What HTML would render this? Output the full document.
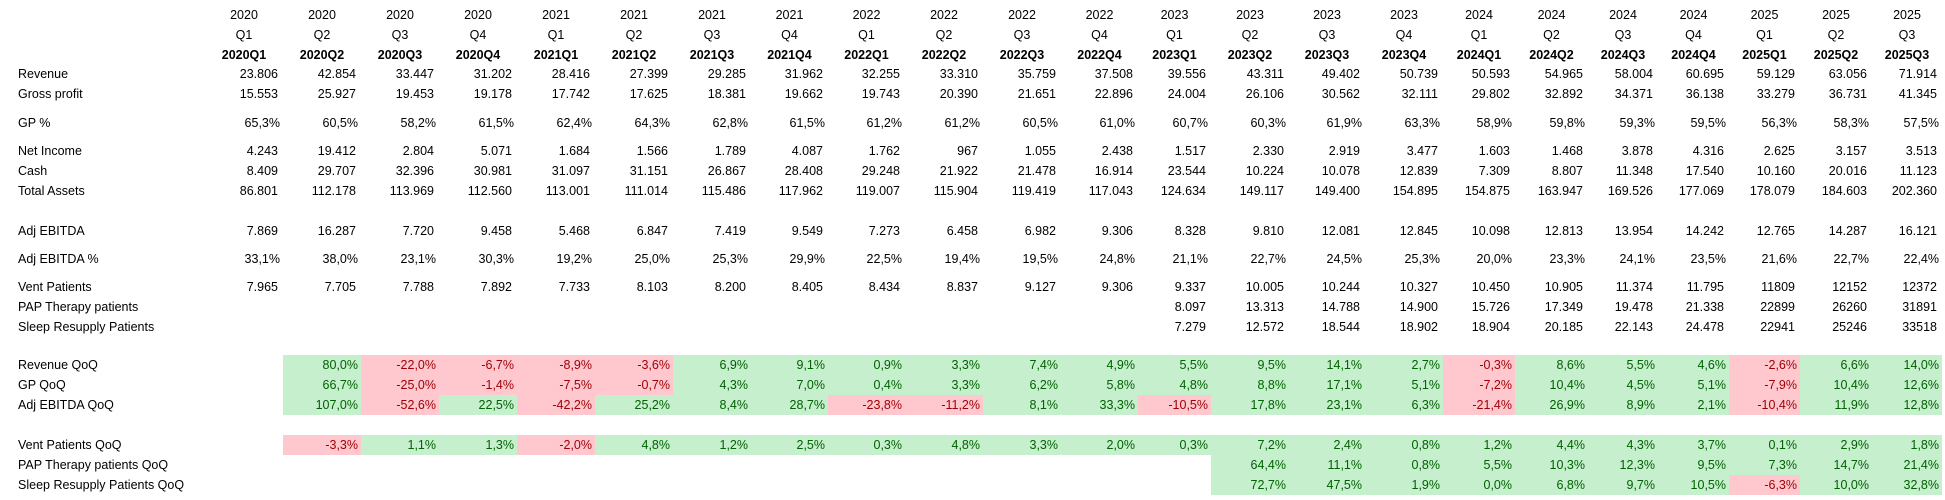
<!DOCTYPE html>
<html><head><meta charset="utf-8">
<style>
html,body{margin:0;padding:0;background:#fff;}
#sheet{position:relative;width:1945px;height:500px;overflow:hidden;font-family:"Liberation Sans",sans-serif;font-size:12.5px;color:#000;}
.c{position:absolute;height:20px;line-height:20px;white-space:nowrap;box-sizing:border-box;}
.lbl{left:18px;}
.hd{text-align:center;}
.b{font-weight:bold;}
.num{text-align:right;padding-right:5px;}
.pct{text-align:right;padding-right:3px;}
.pos{background:#C6EFCE;color:#006100;}
.neg{background:#FFC7CE;color:#9C0006;}
</style></head>
<body>
<div id="sheet"></div>
<script>
const quarters=["2020Q1","2020Q2","2020Q3","2020Q4","2021Q1","2021Q2","2021Q3","2021Q4","2022Q1","2022Q2","2022Q3","2022Q4","2023Q1","2023Q2","2023Q3","2023Q4","2024Q1","2024Q2","2024Q3","2024Q4","2025Q1","2025Q2","2025Q3"];
const revenue=["23.806","42.854","33.447","31.202","28.416","27.399","29.285","31.962","32.255","33.310","35.759","37.508","39.556","43.311","49.402","50.739","50.593","54.965","58.004","60.695","59.129","63.056","71.914"];
const grossProfit=["15.553","25.927","19.453","19.178","17.742","17.625","18.381","19.662","19.743","20.390","21.651","22.896","24.004","26.106","30.562","32.111","29.802","32.892","34.371","36.138","33.279","36.731","41.345"];
const gpPct=["65,3%","60,5%","58,2%","61,5%","62,4%","64,3%","62,8%","61,5%","61,2%","61,2%","60,5%","61,0%","60,7%","60,3%","61,9%","63,3%","58,9%","59,8%","59,3%","59,5%","56,3%","58,3%","57,5%"];
const netIncome=["4.243","19.412","2.804","5.071","1.684","1.566","1.789","4.087","1.762","967","1.055","2.438","1.517","2.330","2.919","3.477","1.603","1.468","3.878","4.316","2.625","3.157","3.513"];
const cash=["8.409","29.707","32.396","30.981","31.097","31.151","26.867","28.408","29.248","21.922","21.478","16.914","23.544","10.224","10.078","12.839","7.309","8.807","11.348","17.540","10.160","20.016","11.123"];
const totalAssets=["86.801","112.178","113.969","112.560","113.001","111.014","115.486","117.962","119.007","115.904","119.419","117.043","124.634","149.117","149.400","154.895","154.875","163.947","169.526","177.069","178.079","184.603","202.360"];
const adjEbitda=["7.869","16.287","7.720","9.458","5.468","6.847","7.419","9.549","7.273","6.458","6.982","9.306","8.328","9.810","12.081","12.845","10.098","12.813","13.954","14.242","12.765","14.287","16.121"];
const adjEbitdaPct=["33,1%","38,0%","23,1%","30,3%","19,2%","25,0%","25,3%","29,9%","22,5%","19,4%","19,5%","24,8%","21,1%","22,7%","24,5%","25,3%","20,0%","23,3%","24,1%","23,5%","21,6%","22,7%","22,4%"];
const ventPatients=["7.965","7.705","7.788","7.892","7.733","8.103","8.200","8.405","8.434","8.837","9.127","9.306","9.337","10.005","10.244","10.327","10.450","10.905","11.374","11.795","11809","12152","12372"];
const papPatients=["","","","","","","","","","","","","8.097","13.313","14.788","14.900","15.726","17.349","19.478","21.338","22899","26260","31891"];
const sleepPatients=["","","","","","","","","","","","","7.279","12.572","18.544","18.902","18.904","20.185","22.143","24.478","22941","25246","33518"];
const revQoQ=["","80,0%","-22,0%","-6,7%","-8,9%","-3,6%","6,9%","9,1%","0,9%","3,3%","7,4%","4,9%","5,5%","9,5%","14,1%","2,7%","-0,3%","8,6%","5,5%","4,6%","-2,6%","6,6%","14,0%"];
const gpQoQ=["","66,7%","-25,0%","-1,4%","-7,5%","-0,7%","4,3%","7,0%","0,4%","3,3%","6,2%","5,8%","4,8%","8,8%","17,1%","5,1%","-7,2%","10,4%","4,5%","5,1%","-7,9%","10,4%","12,6%"];
const ebitdaQoQ=["","107,0%","-52,6%","22,5%","-42,2%","25,2%","8,4%","28,7%","-23,8%","-11,2%","8,1%","33,3%","-10,5%","17,8%","23,1%","6,3%","-21,4%","26,9%","8,9%","2,1%","-10,4%","11,9%","12,8%"];
const ventQoQ=["","-3,3%","1,1%","1,3%","-2,0%","4,8%","1,2%","2,5%","0,3%","4,8%","3,3%","2,0%","0,3%","7,2%","2,4%","0,8%","1,2%","4,4%","4,3%","3,7%","0,1%","2,9%","1,8%"];
const papQoQ=["","","","","","","","","","","","","","64,4%","11,1%","0,8%","5,5%","10,3%","12,3%","9,5%","7,3%","14,7%","21,4%"];
const sleepQoQ=["","","","","","","","","","","","","","72,7%","47,5%","1,9%","0,0%","6,8%","9,7%","10,5%","-6,3%","10,0%","32,8%"];

const colEdges=[205,283,361,439,517,595,673,751,828,905,983,1061,1138,1211,1289,1365,1443,1515,1588,1658,1729,1800,1872,1942];
const sheet=document.getElementById('sheet');
function cell(txt,x,w,y,cls){
  const d=document.createElement('div');
  d.className='c '+cls;
  d.style.left=x+'px';d.style.width=w+'px';d.style.top=(y-10)+'px';
  d.textContent=txt;
  sheet.appendChild(d);
  return d;
}
// headers
quarters.forEach((q,i)=>{
  const x=colEdges[i],w=colEdges[i+1]-colEdges[i];
  const a=cell(q.slice(0,4),x,w,15,'hd');
  
  
  const b=cell(q.slice(4),x,w,35,'hd');
  
  
  const c=cell(q,x,w,55,'hd b');
  
  
});
const rows=[
 ["Revenue",revenue,74,"num",false],
 ["Gross profit",grossProfit,94,"num",false],
 ["GP %",gpPct,123,"pct",false],
 ["Net Income",netIncome,151,"num",false],
 ["Cash",cash,171,"num",false],
 ["Total Assets",totalAssets,191,"num",false],
 ["Adj EBITDA",adjEbitda,231,"num",false],
 ["Adj EBITDA %",adjEbitdaPct,259,"pct",false],
 ["Vent Patients",ventPatients,287,"num",false],
 ["PAP Therapy patients",papPatients,307,"num",false],
 ["Sleep Resupply Patients",sleepPatients,327,"num",false],
 ["Revenue QoQ",revQoQ,365,"pct",true],
 ["GP QoQ",gpQoQ,385,"pct",true],
 ["Adj EBITDA QoQ",ebitdaQoQ,405,"pct",true],
 ["Vent Patients QoQ",ventQoQ,445,"pct",true],
 ["PAP Therapy patients QoQ",papQoQ,465,"pct",true],
 ["Sleep Resupply Patients QoQ",sleepQoQ,485,"pct",true]
];
rows.forEach(r=>{
  const [label,vals,y,cls,cond]=r;
  const slug=label.toLowerCase().replace(/[^a-z0-9]+/g,'-').replace(/-$/,'');
  const l=cell(label,18,200,y,'');
  
  
  vals.forEach((v,i)=>{
    if(v==="")return;
    let c=cls;
    if(cond){const n=parseFloat(v.replace(',','.'));c+=(n<0?' neg':' pos');}
    const d=cell(v,colEdges[i],colEdges[i+1]-colEdges[i],y,c);
    
    
  });
});
</script>
</body></html>
